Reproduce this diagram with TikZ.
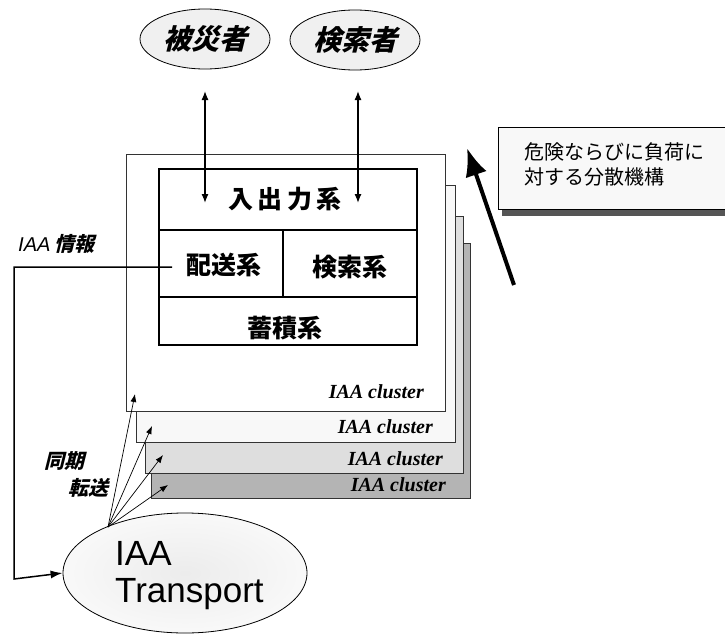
\documentclass[tikz,border=0pt]{standalone}
\usepackage{fontspec}
\newfontfamily\jp{Noto Sans CJK JP}
\newfontfamily\jpsl[FakeSlant=0.25]{Noto Sans CJK JP}
\newfontfamily\arial{Liberation Sans}
\newfontfamily\arialsl[FakeSlant=0.2]{Liberation Sans}
\newfontfamily\tnr{Liberation Serif}
\usetikzlibrary{arrows.meta,shapes.geometric}
\definecolor{ellfill}{HTML}{F0F0F0}
\definecolor{boxB}{HTML}{F8F8F8}
\definecolor{boxC}{HTML}{DEDEDE}
\definecolor{boxD}{HTML}{B4B4B4}
\definecolor{shadowc}{HTML}{555555}
\begin{document}
\begin{tikzpicture}[x=1pt,y=-1pt,
  actor/.style={ellipse,draw=black,line width=0.8pt,fill=ellfill,minimum width=130pt,minimum height=60pt,font=\jpsl\bfseries\fontsize{28}{30}\selectfont},
  clusterbox/.style={draw=black!80,line width=0.8pt},
  clusterlabel/.style={anchor=east,font=\tnr\bfseries\itshape\fontsize{20}{22}\selectfont,inner sep=0pt},
  sysbox/.style={draw=black,line width=2pt},
  syslabel/.style={font=\jp\bfseries\fontsize{25}{27}\selectfont},
  dblarrow/.style={{Latex[length=9pt,width=7pt]}-{Latex[length=9pt,width=7pt]},line width=1.3pt},
  syncarrow/.style={-{Latex[length=8pt,width=6pt]},line width=0.7pt},
  slantlabel/.style={font=\jpsl\bfseries\fontsize{20}{22}\selectfont,inner sep=0pt}
]
\useasboundingbox (0,0) rectangle (725,634);

% actors
\node[actor] (victim) at (205,39) {被災者};
\node[actor] (searcher) at (355,40) {検索者};

% cluster stack
\draw[clusterbox,fill=boxD] (151,243) rectangle (470,498);
\draw[clusterbox,fill=boxC] (145,216) rectangle (463,473);
\draw[clusterbox,fill=boxB] (136,185) rectangle (455,442);
\draw[clusterbox,fill=white] (126,154) rectangle (445,411);
\coordinate (c1) at (135,394);
\coordinate (c2) at (152,426);
\coordinate (c3) at (163,455);
\coordinate (c4) at (168,485);
\node[clusterlabel] (l1) at (424,392) {IAA cluster};
\node[clusterlabel] (l2) at (433,427) {IAA cluster};
\node[clusterlabel] (l3) at (443,459) {IAA cluster};
\node[clusterlabel] (l4) at (446,485) {IAA cluster};

% inner systems
\draw[sysbox] (159,169) rectangle (417,345);
\draw[sysbox] (159,230) -- (417,230);
\draw[sysbox] (159,297) -- (417,297);
\draw[sysbox] (283,230) -- (283,297);
\node[syslabel] (io) at (285,199) {入\,出\,力\,系};
\node[syslabel] (deliv) at (224,265) {配送系};
\node[syslabel] (search) at (350,267) {検索系};
\node[syslabel] (store) at (285,328) {蓄積系};

% user arrows
\coordinate (v1) at (205,91);
\coordinate (v2) at (205,203);
\coordinate (s1) at (358,91);
\coordinate (s2) at (358,203);
\draw[dblarrow] (v1) -- (v2);
\draw[dblarrow] (s1) -- (s2);

% transport
\node[ellipse,draw=black,line width=0.8pt,inner color=gray!15,outer color=gray!5,minimum width=244pt,minimum height=120pt] (T) at (185,573) {};
\node[font=\arial\fontsize{35}{37}\selectfont,align=left,anchor=west,inner sep=0pt] (Ttext) at (115,576) {IAA\\Transport};

% IAA info line
\coordinate (d0) at (172,267);
\coordinate (d1) at (14,267);
\coordinate (d2) at (14,579);
\draw[line width=1.5pt,-{Latex[length=12pt,width=8pt]}] (d0) -- (d1) -- (d2) -- (T.west);
\node[anchor=west,inner sep=0pt] (info) at (17,244) {\arialsl\fontsize{20}{22}\selectfont IAA \jpsl\bfseries 情報};

% sync arrows
\coordinate (src) at (108,527);
\draw[syncarrow] (src) -- (c1);
\draw[syncarrow] (src) -- (c2);
\draw[syncarrow] (src) -- (c3);
\draw[syncarrow] (src) -- (c4);
\node[slantlabel] (sync1) at (64,461) {同期};
\node[slantlabel] (sync2) at (88,488) {転送};

% note
\fill[shadowc] (502,131) rectangle (725,216);
\node[draw=black,line width=0.8pt,fill=boxB,minimum width=227pt,minimum height=82pt,anchor=north west] (note) at (498,127) {};
\node[font=\jp\fontsize{20}{25}\selectfont,align=left,anchor=north west,inner sep=0pt] (notetext) at (524,142) {危険ならびに負荷に\\対する分散機構};
\coordinate (big1) at (514,285);
\coordinate (big2) at (467,148);
\draw[line width=4pt,-{Latex[length=28pt,width=22pt]}] (big1) -- (big2);
\end{tikzpicture}
\end{document}
